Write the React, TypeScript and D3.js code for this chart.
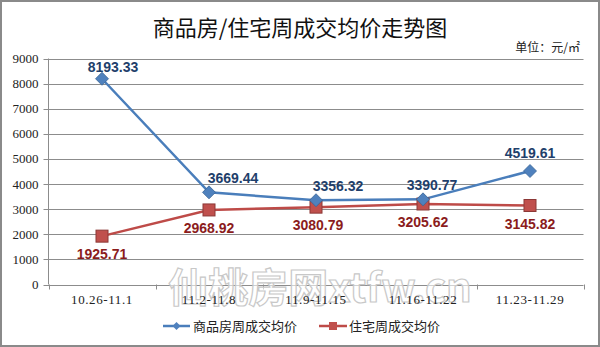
import React from "react";
import * as d3 from "d3";

const categories = ["10.26-11.1", "11.2-11.8", "11.9-11.15", "11.16-11.22", "11.23-11.29"];
const seriesNames = ["商品房周成交均价", "住宅周成交均价"];
const commercialValues = [8193.33, 3669.44, 3356.32, 3390.77, 4519.61];
const residentialValues = [1925.71, 2968.92, 3080.79, 3205.62, 3145.82];
const yTicks = [0, 1000, 2000, 3000, 4000, 5000, 6000, 7000, 8000, 9000];
const commercialLabelDx = [11, 24, 22, 9, 0];
const commercialLabelDy = [-7, -9, -9, -9, -13];

const W = 600;
const H = 347;
const M = { left: 48.5, right: 16.5, top: 58.5, bottom: 62.5 };

export default function App() {
  const x = d3
    .scaleBand<string>()
    .domain(categories)
    .range([M.left, W - M.right]);
  const y = d3.scaleLinear().domain([0, 9000]).range([H - M.bottom, M.top]);
  const cx = (c: string) => (x(c) as number) + x.bandwidth() / 2;

  const line = d3
    .line<number>()
    .x((_, i) => cx(categories[i]))
    .y((d) => y(d));

  const blue = "#4A7EBB";
  const blueMarker = "#4F81BD";
  const red = "#BE4B48";
  const redMarker = "#C0504D";
  const blueText = "#1F3F6B";
  const redText = "#8B1C1C";
  const grid = "#8C8C8C";

  const diamond = (px: number, py: number, r: number) =>
    `M${px},${py - r}L${px + r},${py}L${px},${py + r}L${px - r},${py}Z`;

  return (
    <svg
      width={W}
      height={H}
      style={{ position: "absolute", left: 0, top: 0, display: "block", background: "#fff" }}
      fontFamily="'Liberation Serif', serif"
    >
      <rect x={1} y={1} width={W - 2} height={H - 2} fill="#fff" stroke="#8a8a8a" strokeWidth={2} />

      {/* title */}
      <text
        x={300}
        y={36}
        textAnchor="middle"
        fontSize={22}
        fontFamily="'Noto Sans CJK SC', sans-serif"
        fill="#111"
      >
        商品房/住宅周成交均价走势图
      </text>
      <text
        x={580}
        y={52}
        textAnchor="end"
        fontSize={12}
        fontFamily="'Noto Sans CJK SC', sans-serif"
        fill="#222"
      >
        单位：元/㎡
      </text>

      {/* gridlines + y ticks */}
      {yTicks.map((t) => (
        <g key={t}>
          <line
            x1={M.left - 5}
            x2={W - M.right}
            y1={Math.round(y(t)) + 0.5}
            y2={Math.round(y(t)) + 0.5}
            stroke={grid}
            strokeWidth={1}
          />
          <text x={M.left - 10} y={y(t) + 4.5} textAnchor="end" fontSize={13} fill="#222">
            {t}
          </text>
        </g>
      ))}
      <line x1={M.left} x2={M.left} y1={M.top} y2={H - M.bottom} stroke={grid} />

      {/* category ticks */}
      {d3.range(categories.length + 1).map((i) => {
        const xx = Math.round(M.left + i * x.bandwidth()) + 0.5;
        return <line key={i} x1={xx} x2={xx} y1={H - M.bottom} y2={H - M.bottom + 5} stroke={grid} />;
      })}

      {/* watermark */}
      <text
        x={320}
        y={302}
        textAnchor="middle"
        fontSize={40}
        fontWeight="bold"
        fontFamily="'Noto Sans CJK SC', sans-serif"
        fill="#ffffff"
        fillOpacity={0.6}
        stroke="#c8c8c8"
        strokeWidth={1.2}
      >
        仙桃房网xtfw.cn
      </text>

      {categories.map((c) => (
        <text key={c} x={cx(c)} y={304} textAnchor="middle" fontSize={13} fill="#222" letterSpacing={0.6}>
          {c}
        </text>
      ))}

      {/* lines */}
      <path d={line(residentialValues) || ""} fill="none" stroke={red} strokeWidth={2.5} />
      <path d={line(commercialValues) || ""} fill="none" stroke={blue} strokeWidth={2.5} />

      {residentialValues.map((v, i) => (
        <rect
          key={i}
          x={cx(categories[i]) - 6}
          y={y(v) - 6}
          width={12}
          height={12}
          fill={redMarker}
          stroke="#8C3836"
          strokeWidth={1}
        />
      ))}
      {commercialValues.map((v, i) => (
        <path key={i} d={diamond(cx(categories[i]), y(v), 6.5)} fill={blueMarker} stroke="#3A6496" strokeWidth={0.8} />
      ))}

      {/* labels */}
      {commercialValues.map((v, i) => (
        <text
          key={i}
          x={cx(categories[i]) + commercialLabelDx[i]}
          y={y(v) + commercialLabelDy[i]}
          textAnchor="middle"
          fontSize={14}
          fontWeight="bold"
          fontFamily="'Liberation Sans', Arial, sans-serif"
          fill={blueText}
        >
          {v.toFixed(2)}
        </text>
      ))}
      {residentialValues.map((v, i) => (
        <text
          key={i}
          x={cx(categories[i]) + (i === 2 ? 2 : 0)}
          y={y(v) + 23}
          textAnchor="middle"
          fontSize={14}
          fontWeight="bold"
          fontFamily="'Liberation Sans', Arial, sans-serif"
          fill={redText}
        >
          {v.toFixed(2)}
        </text>
      ))}

      {/* legend */}
      <g fontFamily="'Noto Sans CJK SC', sans-serif" fontSize={13} fill="#222">
        <line x1={163} x2={190} y1={326} y2={326} stroke={blue} strokeWidth={2.5} />
        <path d={diamond(176.5, 326, 4)} fill={blueMarker} />
        <text x={193} y={330.5}>{seriesNames[0]}</text>
        <line x1={319} x2={347} y1={326} y2={326} stroke={red} strokeWidth={2.5} />
        <rect x={329} y={322} width={8} height={8} fill={redMarker} />
        <text x={349} y={330.5}>{seriesNames[1]}</text>
      </g>
    </svg>
  );
}
